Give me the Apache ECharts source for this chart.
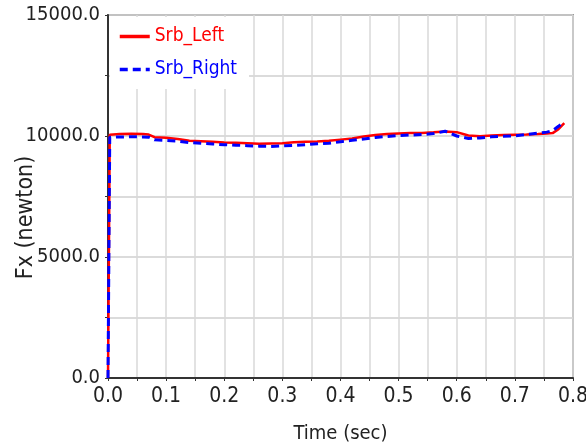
<!DOCTYPE html>
<html>
<head>
<meta charset="utf-8">
<script src="https://cdn.jsdelivr.net/npm/echarts@6/dist/echarts.min.js"></script>
<style>
  html, body { margin: 0; padding: 0; background: #fff; }
  #chart { width: 586px; height: 444px; }
</style>
</head>
<body>
<div id="chart"></div>
<script>
// Time samples (sec)
const timeSec = [0, 0.003, 0.02, 0.04, 0.06, 0.07, 0.08, 0.10, 0.12, 0.14, 0.16, 0.18, 0.20,
  0.22, 0.24, 0.26, 0.28, 0.30, 0.32, 0.34, 0.36, 0.38, 0.40, 0.42, 0.44, 0.46, 0.48,
  0.50, 0.52, 0.54, 0.56, 0.58, 0.60, 0.62, 0.64, 0.66, 0.68, 0.70, 0.72, 0.74, 0.755,
  0.765, 0.775, 0.785];

// Fx force (newton), left side
const srbLeft = [0, 10050, 10080, 10090, 10080, 10060, 9950, 9930, 9880, 9800, 9780, 9760, 9730,
  9720, 9700, 9680, 9690, 9700, 9740, 9760, 9770, 9800, 9850, 9900, 9980, 10040, 10080,
  10100, 10120, 10120, 10150, 10190, 10160, 10020, 9990, 10020, 10040, 10050, 10060, 10080, 10100,
  10120, 10280, 10530];

// Fx force (newton), right side
const srbRight = [0, 9950, 9960, 9970, 9960, 9950, 9840, 9820, 9790, 9730, 9700, 9670, 9640,
  9620, 9600, 9580, 9570, 9590, 9610, 9640, 9680, 9700, 9760, 9820, 9880, 9940, 9980,
  10020, 10040, 10060, 10100, 10200, 10000, 9900, 9920, 9970, 9990, 10010, 10060, 10120, 10160,
  10220, 10400, 10600];

const seriesNames = ['Srb_Left', 'Srb_Right'];
const seriesColors = ['#ff0000', '#0000ff'];

const pairs = (xs, ys) => xs.map((x, i) => [x, ys[i]]);

const FONT = "'Liberation Sans Narrow', 'DejaVu Sans Condensed', 'Liberation Sans', Arial, sans-serif";

const chart = echarts.init(document.getElementById('chart'), null, { renderer: 'canvas' });

chart.setOption({
  animation: false,
  backgroundColor: '#ffffff',
  grid: {
    left: 108, right: 13, top: 15, bottom: 66,
    outerBoundsMode: 'none', containLabel: false,
    show: true, borderColor: '#9a9a9a', borderWidth: 2, backgroundColor: 'transparent'
  },
  legend: {
    orient: 'vertical',
    left: 110, top: 17,
    backgroundColor: '#ffffff',
    padding: [10, 12, 10, 8],
    itemGap: 14,
    itemWidth: 30, itemHeight: 14,
    itemStyle: { opacity: 0 },
    lineStyle: { width: 3.5 },
    textStyle: { fontFamily: FONT, fontSize: 19 },
    data: [
      { name: seriesNames[0], textStyle: { color: seriesColors[0] } },
      { name: seriesNames[1], textStyle: { color: seriesColors[1] } }
    ]
  },
  xAxis: {
    type: 'value', min: 0, max: 0.8, interval: 0.05,
    name: 'Time (sec)', nameLocation: 'middle', nameGap: 46, nameMoveOverlap: false,
    nameTextStyle: { fontFamily: FONT, fontSize: 20, color: '#222' },
    axisLine: { show: true, lineStyle: { color: '#333', width: 2 } },
    axisTick: { show: true, length: 3, lineStyle: { color: '#333' } },
    axisLabel: {
      fontFamily: FONT, fontSize: 21, color: '#222', margin: 8,
      formatter: v => (Math.abs(Math.round(v * 10) - v * 10) < 1e-6 ? v.toFixed(1) : '')
    },
    splitLine: { show: true, lineStyle: { color: '#d8d8d8', width: 1.5 } }
  },
  yAxis: {
    type: 'value', min: 0, max: 15000, interval: 2500,
    name: 'Fx (newton)', nameLocation: 'middle', nameGap: 70, nameRotate: 90, nameMoveOverlap: false,
    nameTextStyle: { fontFamily: FONT, fontSize: 23, color: '#222', padding: [0, 42, 0, 0] },
    axisLine: { show: true, lineStyle: { color: '#333', width: 2 } },
    axisTick: { show: true, length: 3, lineStyle: { color: '#333' } },
    axisLabel: {
      fontFamily: FONT, fontSize: 20, color: '#222', margin: 8,
      formatter: v => (v % 5000 === 0 ? v.toFixed(1) : '')
    },
    splitLine: { show: true, lineStyle: { color: '#cfcfcf', width: 1.5 } }
  },
  series: [
    {
      name: seriesNames[0], type: 'line', symbol: 'none',
      data: pairs(timeSec, srbLeft),
      lineStyle: { color: seriesColors[0], width: 2.5 },
      itemStyle: { color: seriesColors[0] }
    },
    {
      name: seriesNames[1], type: 'line', symbol: 'none',
      data: pairs(timeSec, srbRight),
      lineStyle: { color: seriesColors[1], width: 3, type: [8, 5] },
      itemStyle: { color: seriesColors[1] }
    }
  ]
});
</script>
</body>
</html>
